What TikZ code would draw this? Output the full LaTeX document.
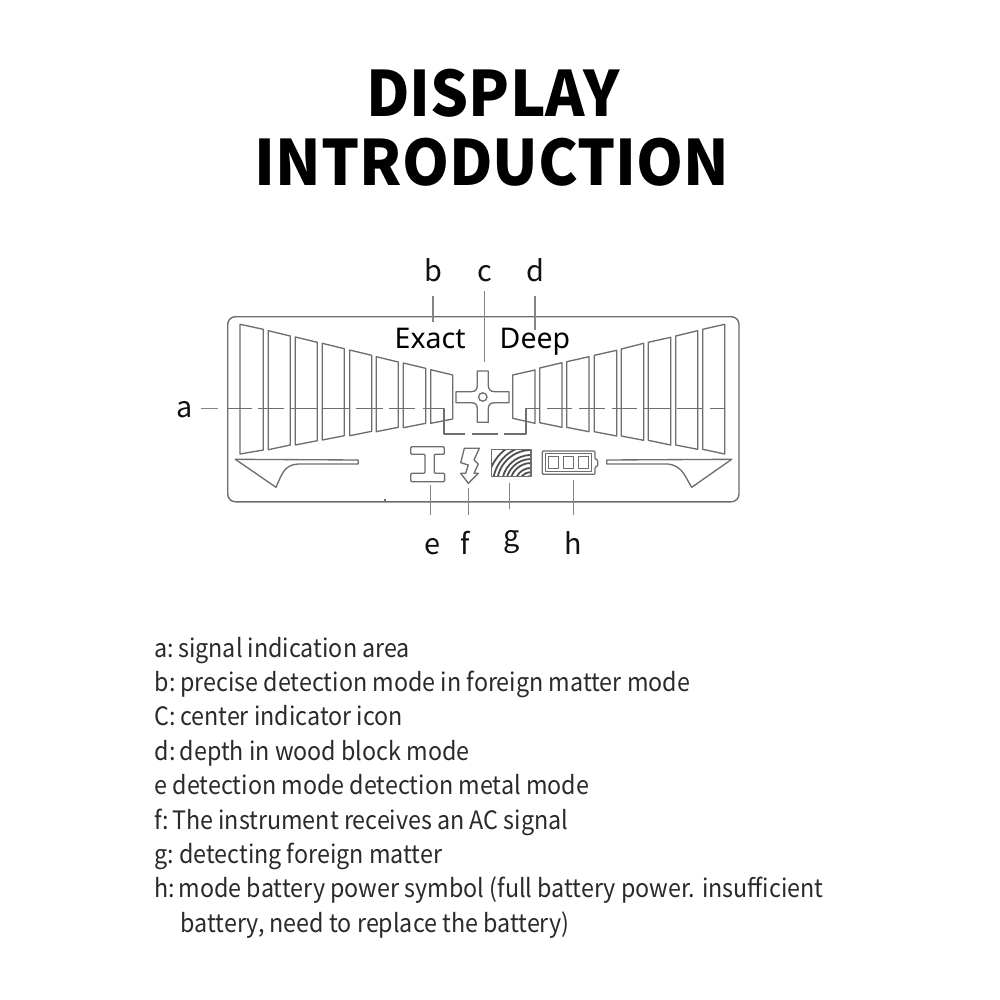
\documentclass[tikz,border=0pt]{standalone}
\usepackage{fontspec}
\setmainfont{Noto Sans CJK SC}
\newfontfamily\lcdfont{Noto Sans}
\newfontfamily\titlefont[FakeStretch=0.955]{Noto Sans CJK SC}
\newfontfamily\notefont[FakeStretch=0.92]{Noto Sans CJK SC}
\definecolor{lcd}{HTML}{6E6E6E}
\definecolor{ink}{HTML}{111111}
\definecolor{bodyink}{HTML}{2A2A2A}
\tikzset{
  lcdline/.style={draw=lcd,line width=0.38pt,line join=round},
  barcell/.style={lcdline},
  leader/.style={draw=lcd!85,line width=0.3pt},
  titletext/.style={inner sep=0,anchor=base,text=black,font=\titlefont\fontsize{17.8}{22}\selectfont\bfseries},
  callout/.style={inner sep=0.6pt,anchor=base,text=ink,font=\fontsize{8.2}{10}\selectfont},
  modeword/.style={inner sep=0,anchor=base west,text=black,font=\lcdfont\fontsize{8.1}{10}\selectfont},
  bodytext/.style={inner sep=0,anchor=base west,text=bodyink,font=\notefont\fontsize{7.2}{10}\selectfont},
}
\begin{document}
\begin{tikzpicture}[x=0.01cm,y=-0.01cm]
\useasboundingbox[fill=white] (0,0) rectangle (1000,1000);
% title
\node[titletext] (t1) at (493,116.5) {DISPLAY};
\node[titletext] (t2) at (492,185) {INTRODUCTION};
% frame
\node[draw=lcd,line width=0.4pt,rounded corners=2.2pt,minimum width=5.11cm,minimum height=1.85cm,inner sep=0,anchor=north west] (frame) at (227,316) {};
\coordinate (tick) at (385,501);
\draw[lcdline] (tick) -- ++(0,-2);
% left bars
\draw[barcell] (240,324.3)--(263.3,329.3)--(263.3,450)--(240,454)--cycle;
\draw[barcell] (268.3,330.7)--(290.3,336)--(290.3,445)--(268.3,449.7)--cycle;
\draw[barcell] (295.3,337)--(317.3,342.3)--(317.3,440.7)--(295.3,445)--cycle;
\draw[barcell] (322.3,343.3)--(344.3,348.7)--(344.3,435.7)--(322.3,440)--cycle;
\draw[barcell] (349.7,350)--(371.7,355.3)--(371.7,431.3)--(349.7,435.7)--cycle;
\draw[barcell] (376.3,356.7)--(398.3,362)--(398.3,427.3)--(376.3,431.7)--cycle;
\draw[barcell] (403.3,363)--(425.7,368.3)--(425.7,423.3)--(403.3,427.7)--cycle;
\draw[barcell] (430.7,369.7)--(452.7,375)--(452.7,419)--(430.7,423.3)--cycle;
% right bars
\draw[barcell] (512.7,375)--(535,370)--(535,423.3)--(512.7,418.3)--cycle;
\draw[barcell] (539.7,368)--(562,362.7)--(562,427.3)--(539.7,422.7)--cycle;
\draw[barcell] (566.7,361.7)--(589,356.7)--(589,431.7)--(566.7,427.3)--cycle;
\draw[barcell] (594.3,355.3)--(616.7,350.3)--(616.7,436)--(594.3,431.7)--cycle;
\draw[barcell] (621.3,349)--(643.7,343.3)--(643.7,440.3)--(621.3,436)--cycle;
\draw[barcell] (648.3,342.3)--(670.7,337.3)--(670.7,445)--(648.3,440.3)--cycle;
\draw[barcell] (675.7,336)--(697.7,330.7)--(697.7,449.3)--(675.7,445)--cycle;
\draw[barcell] (702.7,329.3)--(724.7,324.3)--(724.7,454)--(702.7,449.3)--cycle;
% dashed axis
\foreach \p/\q in {226.7/252,258/284,291/317,323/349,356/383,389/415}
  \draw[lcdline] (\p,408.5)--(\q,408.5);
\draw[lcdline] (423,408.5)--(444,408.5)--(444,434)--(465,434);
\draw[lcdline] (472,434)--(498,434);
\draw[lcdline] (504,434)--(526,434)--(526,408.5)--(540,408.5);
\foreach \p/\q in {547/572,579/605,612/637,643/671,677/703,710/725}
  \draw[lcdline] (\p,408.5)--(\q,408.5);
% wedges
\draw[lcdline] (235.3,459.3)--(276,487.3) .. controls (282,474) and (284,465) .. (298,464)--(358.3,464)--(358.3,460)--cycle;
\draw[lcdline] (731.7,459.3)--(691.7,487.3) .. controls (685,477) and (683,466) .. (668,464)--(606.7,464)--(606.7,460)--cycle;
% centre cross
\draw[lcdline] (477.3,371)--(488.3,371)--(488.3,385) .. controls (488.3,389) and (490,391.7) .. (495,391.7)--(509,391.7)--(509,402.7)--(495,402.7) .. controls (490,402.7) and (488.3,405) .. (488.3,409)--(488.3,422.3)--(477.3,422.3)--(477.3,409) .. controls (477.3,405) and (476,402.7) .. (471,402.7)--(456,402.7)--(456,391.7)--(471,391.7) .. controls (476,391.7) and (477.3,389) .. (477.3,385)--cycle;
\draw[lcdline] (482.8,397) circle[radius=4.2];
% I beam
\draw[lcdline,rounded corners=0.3pt] (410.7,446.7)--(444.3,446.7)--(444.3,454.3)--(434.3,454.3)--(434.3,473.3)--(444.6,473.3)--(444.6,481.7)--(410.7,481.7)--(410.7,473.3)--(425,473.3)--(425,454.3)--(410.7,454.3)--cycle;
% bolt
\draw[lcdline] (464.3,448.3)--(479.3,448.3)--(474,460)--(478.3,464)--(474,473.3)--(478.3,473.3)--(468.3,483.3)--(460.7,473.3)--(465.7,473.3)--(468.3,465)--(460.7,462.7)--cycle;
% wood
\begin{scope}
\clip (491.7,449.3) rectangle (531,476.7);
\foreach \r in {8,12,16,21,25,29,34,38,43}
  \draw[draw=lcd!70!black,line width=0.5pt] (531,484) circle[radius=\r];
\end{scope}
\draw[lcdline] (491.7,449.3) rectangle (531,476.7);
% battery
\draw[lcdline,rounded corners=0.3pt] (542.3,451)--(595,451)--(595,459)--(597.7,460)--(597.7,466)--(595,467)--(595,474.3)--(542.3,474.3)--cycle;
\draw[lcdline] (545.7,453.3) rectangle (591.7,471.7);
\draw[lcdline] (548.3,456.7) rectangle (558.3,468.3);
\draw[lcdline] (563.3,456.7) rectangle (573.3,468.3);
\draw[lcdline] (578.3,456.7) rectangle (588.3,468.3);
% mode words
\node[modeword] (exact) at (394,348.5) {Exact};
\node[modeword] (deep) at (499,348.5) {Deep};
% callouts
\node[callout] (la) at (185,417) {a};
\node[callout] (lb) at (433,281) {b};
\node[callout] (lc) at (484.5,281) {c};
\node[callout] (ld) at (535,281) {d};
\node[callout] (le) at (432,554) {e};
\node[callout] (lf) at (465,554) {f};
\node[callout] (lg) at (512,546) {g};
\node[callout] (lh) at (573,554) {h};
\coordinate (ab) at (218,408.5);
\coordinate (bb) at (433,322);
\coordinate (cb) at (484.5,362);
\coordinate (db) at (535,330);
\coordinate (eb) at (430.7,485);
\coordinate (fb) at (468.3,488);
\coordinate (gb) at (509.3,483);
\coordinate (hb) at (573.7,480);
\draw[leader] (la.east |- ab) ++(5,0) -- (ab);
\draw[leader] (lb.south) ++(0,12) -- (bb);
\draw[leader] (lc.south) ++(0,7) -- (cb);
\draw[leader] (ld.south) ++(0,12) -- (db);
\draw[leader] (eb) -- (eb |- 0,515);
\draw[leader] (fb) -- (fb |- 0,515);
\draw[leader] (gb) -- (gb |- 0,509);
\draw[leader] (hb) -- (hb |- 0,515);
% body
\node[bodytext] (n1) at (154,657) {a:\kern-0.85pt{} signal indication area};
\node[bodytext] (n2) at (154,691) {b:\kern-0.6pt{} precise detection mode in foreign matter mode};
\node[bodytext] (n3) at (154,725) {C:\kern-0.3pt{} center indicator icon};
\node[bodytext] (n4) at (154,760) {d:\kern-0.8pt{} depth in wood block mode};
\node[bodytext] (n5) at (154,794) {e detection mode detection metal mode};
\node[bodytext] (n6) at (154,829) {f:\kern-1pt{} The instrument receives an AC signal};
\node[bodytext] (n7) at (154,863) {g:\kern-0.6pt{} detecting foreign matter};
\node[bodytext] (n8) at (154,897) {h:\kern-1pt{} mode battery power symbol (full battery power. insufficient};
\node[bodytext] (n9) at (180,932) {battery, need to replace the battery)};
\end{tikzpicture}
\end{document}
